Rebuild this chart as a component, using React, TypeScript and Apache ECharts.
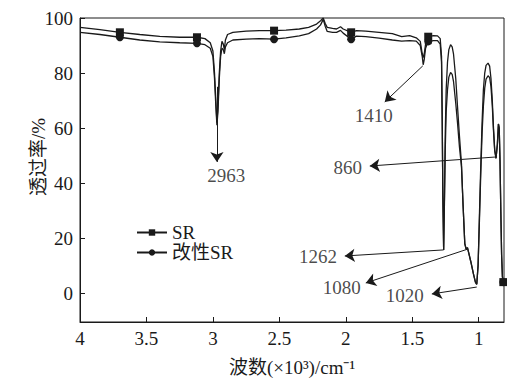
import React, { useEffect, useRef } from "react";
import * as echarts from "echarts";

// wavenumber in 10^3 cm^-1
const wavenumbers = [
  4.0, 3.85, 3.7, 3.55, 3.4, 3.25, 3.12, 3.06, 3.02, 3.0, 2.988, 2.978, 2.97, 2.962, 2.952, 2.942, 2.932, 2.922,
  2.914, 2.906, 2.89, 2.85, 2.75, 2.65, 2.54, 2.45, 2.35, 2.28, 2.22, 2.19, 2.17, 2.155, 2.14, 2.1, 2.07, 2.04,
  2.02, 1.96, 1.92, 1.85, 1.75, 1.65, 1.58, 1.52, 1.47, 1.44, 1.425, 1.418, 1.41, 1.4, 1.38, 1.34, 1.31, 1.29,
  1.28, 1.275, 1.27, 1.264, 1.258, 1.252, 1.245, 1.235, 1.225, 1.212, 1.2, 1.19, 1.173, 1.16, 1.145, 1.13,
  1.118, 1.105, 1.095, 1.085, 1.075, 1.06, 1.04, 1.025, 1.015, 1.005, 0.995, 0.985, 0.975, 0.965, 0.955,
  0.945, 0.93, 0.918, 0.908, 0.898, 0.889, 0.88, 0.87, 0.86, 0.852, 0.846, 0.84, 0.834, 0.828, 0.822, 0.815,
];

const srTransmittance = [
  96.6, 95.8, 94.8, 94.0, 93.3, 93.0, 93.0, 92.5, 91.0, 88.0, 80.0, 70.0, 62.0, 68.0, 80.0, 88.0, 91.5, 90.5,
  88.5, 92.0, 94.0, 94.8, 95.2, 95.4, 95.4, 95.6, 96.0, 96.6, 97.8, 99.0, 100.0, 98.0, 96.6, 96.2, 96.0, 96.8,
  96.0, 94.8, 95.4, 95.2, 94.8, 94.3, 93.2, 93.6, 92.8, 91.5, 87.0, 85.6, 87.0, 90.5, 93.2, 93.6, 93.5, 92.5,
  86.0, 65.0, 35.0, 15.7, 35.0, 58.0, 74.0, 84.0, 88.5, 90.3, 89.5, 87.0, 78.0, 68.0, 57.0, 47.0,
  32.0, 18.0, 16.0, 16.5, 14.5, 11.5, 7.0, 4.0, 3.2, 10.0, 28.0, 46.0, 62.0, 74.0, 80.0,
  82.8, 83.6, 82.5, 78.0, 70.0, 60.0, 52.0, 49.0, 54.0, 61.5, 60.0, 48.0, 30.0, 14.0, 6.0, 4.0,
];

const modifiedSrTransmittance = [
  94.8, 94.0, 93.0, 92.0, 91.3, 91.0, 90.8, 90.3, 89.0, 86.0, 78.0, 68.0, 61.0, 66.0, 78.0, 86.0, 89.0, 88.5,
  87.0, 89.5, 91.0, 92.0, 92.3, 92.5, 92.3, 92.8, 93.5, 94.3, 96.0, 97.5, 99.5, 97.0, 95.1, 94.8, 94.8, 95.5,
  94.5, 92.3, 93.4, 93.2, 92.7, 92.0, 91.6, 91.8, 91.6, 90.0, 86.0, 83.0, 85.0, 89.0, 91.5, 91.8, 91.8, 90.5,
  84.0, 63.0, 35.0, 15.7, 33.0, 52.0, 66.0, 74.0, 78.5, 80.2, 79.5, 77.0, 69.0, 62.0, 53.0, 46.0,
  32.0, 18.0, 16.0, 16.5, 14.5, 11.5, 7.0, 4.0, 3.2, 10.0, 26.0, 43.0, 58.0, 68.0, 74.5,
  77.8, 79.0, 78.3, 75.0, 68.0, 59.0, 52.0, 49.0, 54.0, 61.5, 60.0, 48.0, 30.0, 14.0, 6.0, 4.0,
];

const markerWavenumbers = [3.7, 3.12, 2.54, 1.96, 1.38, 0.815];

const xTickValues = [4, 3.5, 3, 2.5, 2, 1.5, 1];
const yTickValues = [0, 20, 40, 60, 80, 100];

const annotationLabels = ["2963", "1410", "860", "1262", "1080", "1020"];
const annotationLabelAt = [
  [2.9, 42.6],
  [1.79, 64.4],
  [1.985, 45.5],
  [2.21, 13.2],
  [2.03, 2.2],
  [1.556, -1.0],
];
const arrowFrom = [
  [2.97, 75],
  [1.421, 82.6],
  [0.866, 49.5],
  [1.264, 15.7],
  [1.083, 16.0],
  [1.015, 2.2],
];
const arrowTo = [
  [2.97, 47.7],
  [1.707, 69.5],
  [1.82, 46.2],
  [2.008, 13.5],
  [1.85, 3.7],
  [1.353, -0.3],
];

const FONT = "Liberation Serif, Noto Sans CJK SC, serif";
const INK = "#1a1a1a";

export default function App() {
  const ref = useRef<HTMLDivElement>(null);

  useEffect(() => {
    if (!ref.current) return;
    const chart = echarts.init(ref.current, null, { renderer: "svg" });
    const markerSet = new Set(markerWavenumbers);
    const symbolSize = (v: number[]) => (markerSet.has(v[0]) ? 8 : 0);

    const lineBase = {
      type: "line",
      showSymbol: true,
      showAllSymbol: true,
      symbolSize,
      lineStyle: { color: INK, width: 1.3 },
      itemStyle: { color: INK },
      emphasis: { disabled: true },
      silent: true,
    };

    chart.setOption({
      animation: false,
      backgroundColor: "#fff",
      textStyle: { fontFamily: FONT },
      grid: {
        left: 80,
        right: 3,
        top: 18,
        bottom: 61,
        show: true,
        borderColor: INK,
        borderWidth: 1,
      },
      legend: {
        data: [{ name: "SR" }, { name: "改性SR" }],
        orient: "vertical",
        left: 131,
        top: 218,
        itemWidth: 30,
        itemHeight: 8,
        itemGap: 1,
        textStyle: { fontSize: 19, fontFamily: FONT, color: INK },
      },
      xAxis: {
        type: "value",
        inverse: true,
        min: 0.81,
        max: 4,
        name: "波数(×10³)/cm⁻¹",
        nameLocation: "middle",
        nameGap: 36,
        nameTextStyle: { fontSize: 19, fontFamily: FONT, color: INK },
        axisLine: { onZero: false, lineStyle: { color: INK } },
        axisTick: { inside: true, length: 5, lineStyle: { color: INK }, customValues: xTickValues },
        axisLabel: {
          customValues: xTickValues,
          formatter: (v: number) => String(v),
          fontSize: 19,
          fontFamily: FONT,
          color: INK,
          margin: 7,
        },
        splitLine: { show: false },
      },
      yAxis: {
        type: "value",
        min: -10.5,
        max: 100,
        axisLine: { show: true, onZero: false, lineStyle: { color: INK } },
        axisTick: { show: true, inside: true, length: 5, lineStyle: { color: INK }, customValues: yTickValues },
        axisLabel: {
          customValues: yTickValues,
          formatter: (v: number) => String(v),
          fontSize: 19,
          fontFamily: FONT,
          color: INK,
          margin: 7,
        },
        splitLine: { show: false },
      },
      graphic: [
        {
          type: "text",
          x: 38,
          y: 157,
          rotation: Math.PI / 2,
          style: {
            text: "透过率/%",
            fontSize: 19,
            fontFamily: FONT,
            fill: INK,
            align: "center",
            verticalAlign: "middle",
          },
        },
      ],
      series: [
        {
          ...lineBase,
          name: "SR",
          symbol: "rect",
          data: wavenumbers.map((w, i) => [w, srTransmittance[i]]),
          z: 3,
        },
        {
          ...lineBase,
          name: "改性SR",
          symbol: "circle",
          data: wavenumbers.map((w, i) => [w, modifiedSrTransmittance[i]]),
          z: 3,
        },
        {
          type: "lines",
          name: "arrows",
          coordinateSystem: "cartesian2d",
          silent: true,
          symbol: ["none", "arrow"],
          symbolSize: 10,
          lineStyle: { color: INK, width: 1, opacity: 1, curveness: 0 },
          itemStyle: { color: INK },
          data: arrowFrom.map((f, i) => ({ coords: [f, arrowTo[i]] })),
          z: 4,
        },
        {
          type: "scatter",
          name: "annotations",
          symbolSize: 0,
          silent: true,
          itemStyle: { color: INK },
          data: annotationLabels.map((t, i) => ({ name: t, value: annotationLabelAt[i] })),
          label: {
            show: true,
            position: "inside",
            formatter: (p: any) => p.name,
            fontSize: 19,
            fontFamily: FONT,
            color: INK,
          },
          z: 4,
        },
      ],
    });
    return () => chart.dispose();
  }, []);

  return (
    <div
      ref={ref}
      style={{ position: "absolute", left: 0, top: 0, width: 507, height: 383 }}
    />
  );
}
